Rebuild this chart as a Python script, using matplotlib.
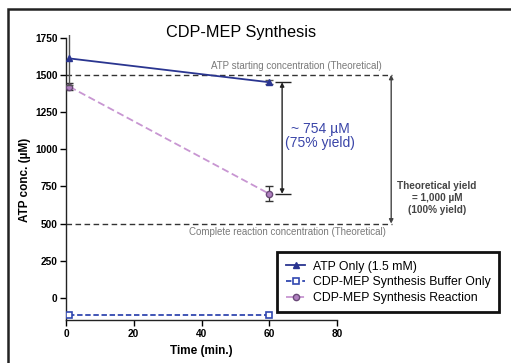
"""
CDP-MEP Synthesis: ATP concentration over time.

Writes:
    out.png
"""

import matplotlib.pyplot as plt
from matplotlib.lines import Line2D
from matplotlib.patches import Rectangle


# Data
time_pts = [1, 60]

atp_only = [1610, 1450]
atp_only_err = [180, 15]

buffer_only = [-115, -115]
buffer_only_err = [0, 0]

reaction = [1420, 700]
reaction_err = [25, 50]

atp_start = 1500
complete_rxn = 500
yield_observed = 754

x_ticks = [0, 20, 40, 60, 80]
y_ticks = [0, 250, 500, 750, 1000, 1250, 1500, 1750]

NAVY = "#2a3590"
BLUE = "#3148b0"
PURPLE = "#c896d2"
PURPLE_FILL = "#b080c0"
PURPLE_EDGE = "#6a4a78"
DARK = "#333333"
GREY_TXT = "#7a7a7a"

plt.rcParams["font.family"] = ["Liberation Sans", "DejaVu Sans"]

fig = plt.figure(figsize=(5.11, 3.63), dpi=100)
ax = fig.add_axes([66 / 511, 0.1176, 338.75 / 511, 0.787])

# Outer frame
fig.patches.append(
    Rectangle((8 / 511, -0.05), 1.1, 1 - 9 / 363 + 0.05, transform=fig.transFigure,
              fill=False, edgecolor="#222222", linewidth=1.8, zorder=0)
)

# Theoretical reference lines
ax.hlines([atp_start, complete_rxn], 0, 96.3, colors=DARK, linestyles=(0, (4, 2.5)),
          linewidth=1.0, zorder=1)
ax.text(68, atp_start + 25, "ATP starting concentration (Theoretical)", ha="center",
        va="bottom", fontsize=7.0, color=GREY_TXT)
ax.text(65.5, complete_rxn - 25, "Complete reaction concentration (Theoretical)",
        ha="center", va="top", fontsize=7.0, color=GREY_TXT)

# Series
ax.errorbar(time_pts, atp_only, yerr=atp_only_err, color=NAVY, ecolor="#555555",
            marker="^", markersize=5, linewidth=1.3, elinewidth=1.0, capsize=3,
            zorder=4)
ax.errorbar(time_pts, buffer_only, yerr=buffer_only_err, color=BLUE, marker="s",
            markersize=4, markerfacecolor="white", markeredgewidth=1.2,
            linestyle=(0, (3, 1.5)), linewidth=1.3, capsize=0, zorder=4)
ax.errorbar(time_pts, reaction, yerr=reaction_err, color=PURPLE, ecolor="#333333",
            marker="o", markersize=4.5, markerfacecolor=PURPLE_FILL,
            markeredgecolor=PURPLE_EDGE, linestyle=(0, (4, 2)), linewidth=1.3,
            elinewidth=0.9, capsize=3, zorder=3)

# Observed yield arrow (between ATP-only and reaction at 60 min)
x_obs = 63.8
ax.annotate("", xy=(x_obs, atp_only[1]), xytext=(x_obs, reaction[1]),
            arrowprops=dict(arrowstyle="<|-|>", color="#222222", lw=1.0,
                            mutation_scale=6, shrinkA=0, shrinkB=0))
ax.hlines([atp_only[1], reaction[1]], x_obs - 2, x_obs + 2.5, colors="#222222",
          linewidth=1.0)
ax.text(75, 1092, f"~ {yield_observed} µM\n(75% yield)", ha="center",
        va="center", fontsize=10, color="#3a45a8", linespacing=1.0)

# Theoretical yield arrow
x_th = 96.0
ax.annotate("", xy=(x_th, atp_start), xytext=(x_th, complete_rxn),
            arrowprops=dict(arrowstyle="<|-|>", color="#444444", lw=1.0,
                            mutation_scale=6, shrinkA=0, shrinkB=0))
ax.text(109.5, 672, "Theoretical yield\n= 1,000 µM\n(100% yield)", ha="center",
        va="center", fontsize=7.2, fontweight="bold", color="#444444",
        linespacing=1.2, clip_on=False)

ax.set_xlim(0, 100)
ax.set_ylim(-150, 1770)
ax.set_xticks(x_ticks)
ax.set_yticks(y_ticks)
ax.spines["top"].set_visible(False)
ax.spines["right"].set_visible(False)
ax.spines["bottom"].set_bounds(0, 80)
ax.spines["left"].set_bounds(-150, 1750)
for s in ("left", "bottom"):
    ax.spines[s].set_linewidth(1.0)
    ax.spines[s].set_color("#222222")
ax.tick_params(direction="out", length=4, width=1.0, labelsize=7.3, pad=2)
for lbl in ax.get_xticklabels() + ax.get_yticklabels():
    lbl.set_fontweight("bold")

ax.set_xlabel("Time (min.)", fontsize=8.5, fontweight="bold")
ax.xaxis.set_label_coords(0.40, -0.085)
ax.set_ylabel("ATP conc. (µM)", fontsize=8.5, fontweight="bold")
ax.yaxis.set_label_coords(-0.103, 0.49)
fig.text(241 / 511, 1 - 33 / 363, "CDP-MEP Synthesis", ha="center", va="center",
         fontsize=11.7)

handles = [
    Line2D([], [], color=NAVY, marker="^", markersize=5, linewidth=1.3),
    Line2D([], [], color=BLUE, marker="s", markersize=4, markerfacecolor="white",
           markeredgewidth=1.2, linestyle=(0, (3, 1.5)), linewidth=1.3),
    Line2D([], [], color=PURPLE, marker="o", markersize=4.5,
           markerfacecolor=PURPLE_FILL, markeredgecolor=PURPLE_EDGE,
           linestyle=(0, (4, 2)), linewidth=1.3),
]
labels = ["ATP Only (1.5 mM)", "CDP-MEP Synthesis Buffer Only",
          "CDP-MEP Synthesis Reaction"]
leg = ax.legend(handles, labels, loc="upper right",
                bbox_to_anchor=(499 / 511, 1 - 252 / 363),
                bbox_transform=fig.transFigure, fontsize=8.8, frameon=True,
                fancybox=False, framealpha=1, edgecolor="#111111",
                handlelength=1.6, handletextpad=0.6, labelspacing=0.3,
                borderpad=0.7, borderaxespad=0)
leg.get_frame().set_linewidth(2.0)

fig.savefig("out.png", dpi=100)
plt.close(fig)
